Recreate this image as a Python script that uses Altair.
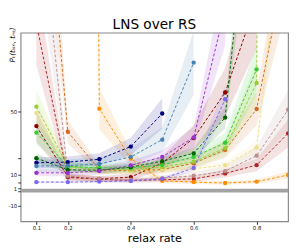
import altair as alt
import pandas as pd

relax_rate = [0.1, 0.2, 0.3, 0.4, 0.5, 0.6, 0.7, 0.8, 0.9]

series_names = ["darkred", "firebrick", "rosybrown", "chocolate", "darkorange",
                "khaki", "yellowgreen", "limegreen", "darkgreen", "navy",
                "steelblue", "darkorchid", "mediumslateblue"]
series_colors = ["#8b0000", "#b22222", "#bc8f8f", "#d2691e", "#ff8c00",
                 "#eee08a", "#9acd32", "#32cd32", "#006400", "#000080",
                 "#4682b4", "#9932cc", "#7b68ee"]

darkred = [40.6, 8.4, 7.0, 8.2, 17, 33, 62, 120, None]
firebrick = [106, 8.0, 6.8, 6.0, 6.5, 7.0, 10.5, 15.8, 36]
rosybrown = [200, 9.0, 7.0, 6.5, 7.5, 9.0, 12, 21.8, 51]
chocolate = [265, 37, 13, 12, 13, 17, 25.5, 51.5, 150]
darkorange = [None, 3000, 51.7, 20, 5.8, 5.0, 4.4, 5.3, 9.5]
khaki = [49, 14, 12, 12, 13, 13.5, 15.8, 27, 200]
yellowgreen = [53, 15, 13, 13, 14.5, 18, 26.6, 68, 3000]
limegreen = [36.5, 15, 14, 14, 16, 21, 30, 76.7, None]
darkgreen = [20.2, 12.8, 12.5, 14.5, 18.3, 23.3, 46, 240, None]
navy = [17.3, 17.7, 19.5, 27.6, 48.6, None, None, None, None]
steelblue = [15.2, 15.5, 16.5, 21, 32, 81, None, None, None]
darkorchid = [10.9, 10.9, 12.1, 15.6, 21, 33.4, 115, None, None]
mediumslateblue = [5.0, 5.0, 5.3, 5.8, 7.0, 14, 57.7, None, None]

series_values = [darkred, firebrick, rosybrown, chocolate, darkorange, khaki,
                 yellowgreen, limegreen, darkgreen, navy, steelblue,
                 darkorchid, mediumslateblue]
# relative half-width of the shaded uncertainty band of each series
band_rel = [0.25, 0.25, 0.25, 0.2, 0.25, 0.15, 0.2, 0.2, 0.15, 0.2, 0.25, 0.2, 0.15]

baseline_x = [0.05, 0.9]
baseline_y = [-0.4, -0.4]

y_ticks = [-10, -1, 1, 5, 10, 20, 50]
x_ticks = [0.1, 0.2, 0.4, 0.6, 0.8]

rows = []
for name, vals, r in zip(series_names, series_values, band_rel):
    for xv, yv in zip(relax_rate, vals):
        if yv is None:
            continue
        rows.append({"x": xv, "y": yv, "s": name, "r": r})
df = pd.DataFrame(rows)
gray_df = pd.DataFrame({"x": baseline_x, "y": baseline_y})

xscale = alt.Scale(domain=[0.05, 0.9], nice=False, zero=False)
yscale = alt.Scale(domain=[-20, 100], nice=False, zero=False)

x_axis = alt.Axis(values=x_ticks, format=".1f", title="relax rate",
                  titleFontSize=11.5, titleFont="DejaVu Sans",
                  titleFontWeight="normal", titlePadding=2, labelPadding=1)
y_axis = alt.Axis(values=y_ticks,
                  labelExpr="datum.value < 0 ? '-' + abs(datum.value) : '' + datum.value",
                  title="Pₜ(tₗₛₙ, tₙₛ)", titleFont="DejaVu Sans",
                  titleFontStyle="italic", titleFontWeight="normal",
                  titleFontSize=7.5, titleX=-8, titleY=12, titleAngle=270,
                  titleAlign="center", titleBaseline="middle", labelPadding=1)

X = alt.X("x:Q", scale=xscale, axis=x_axis)
color = alt.Color("s:N", scale=alt.Scale(domain=series_names, range=series_colors), legend=None)

base = alt.Chart(df)

bands = base.transform_calculate(
    lo="datum.y*(1-datum.r)", hi="datum.y*(1+datum.r)"
).mark_area(opacity=0.13, clip=True).encode(
    x=X,
    y=alt.Y("lo:Q", scale=yscale, axis=y_axis),
    y2="hi:Q",
    color=color,
)

gray = alt.Chart(gray_df).mark_line(color="#a3a3a3", strokeWidth=4, clip=True).encode(
    x=alt.X("x:Q", scale=xscale, axis=x_axis),
    y=alt.Y("y:Q", scale=yscale, axis=y_axis),
)

lines = base.mark_line(strokeDash=[3, 2], strokeWidth=1, clip=True).encode(
    x=X, y=alt.Y("y:Q", scale=yscale, axis=y_axis), color=color
)

points = base.mark_circle(size=20, opacity=1, clip=True).encode(
    x=X, y=alt.Y("y:Q", scale=yscale, axis=y_axis), color=color
)

chart = alt.layer(bands, gray, lines, points).properties(
    width=275, height=194,
    title=alt.TitleParams("LNS over RS", fontSize=14, font="DejaVu Sans",
                          fontWeight="normal", offset=4, dy=9),
    autosize=alt.AutoSizeParams(type="none"),
    padding={"left": 13, "top": 22, "right": 3, "bottom": 26},
).configure_view(
    stroke="#888888", strokeWidth=1.2
).configure_axis(
    domain=False, grid=False, tickColor="#333333", tickSize=3,
    labelFontSize=5.5, labelFont="DejaVu Sans", labelColor="#222222",
    titleColor="#000000"
)

chart.save("out.html", embed_options={"renderer": "svg", "actions": False})
